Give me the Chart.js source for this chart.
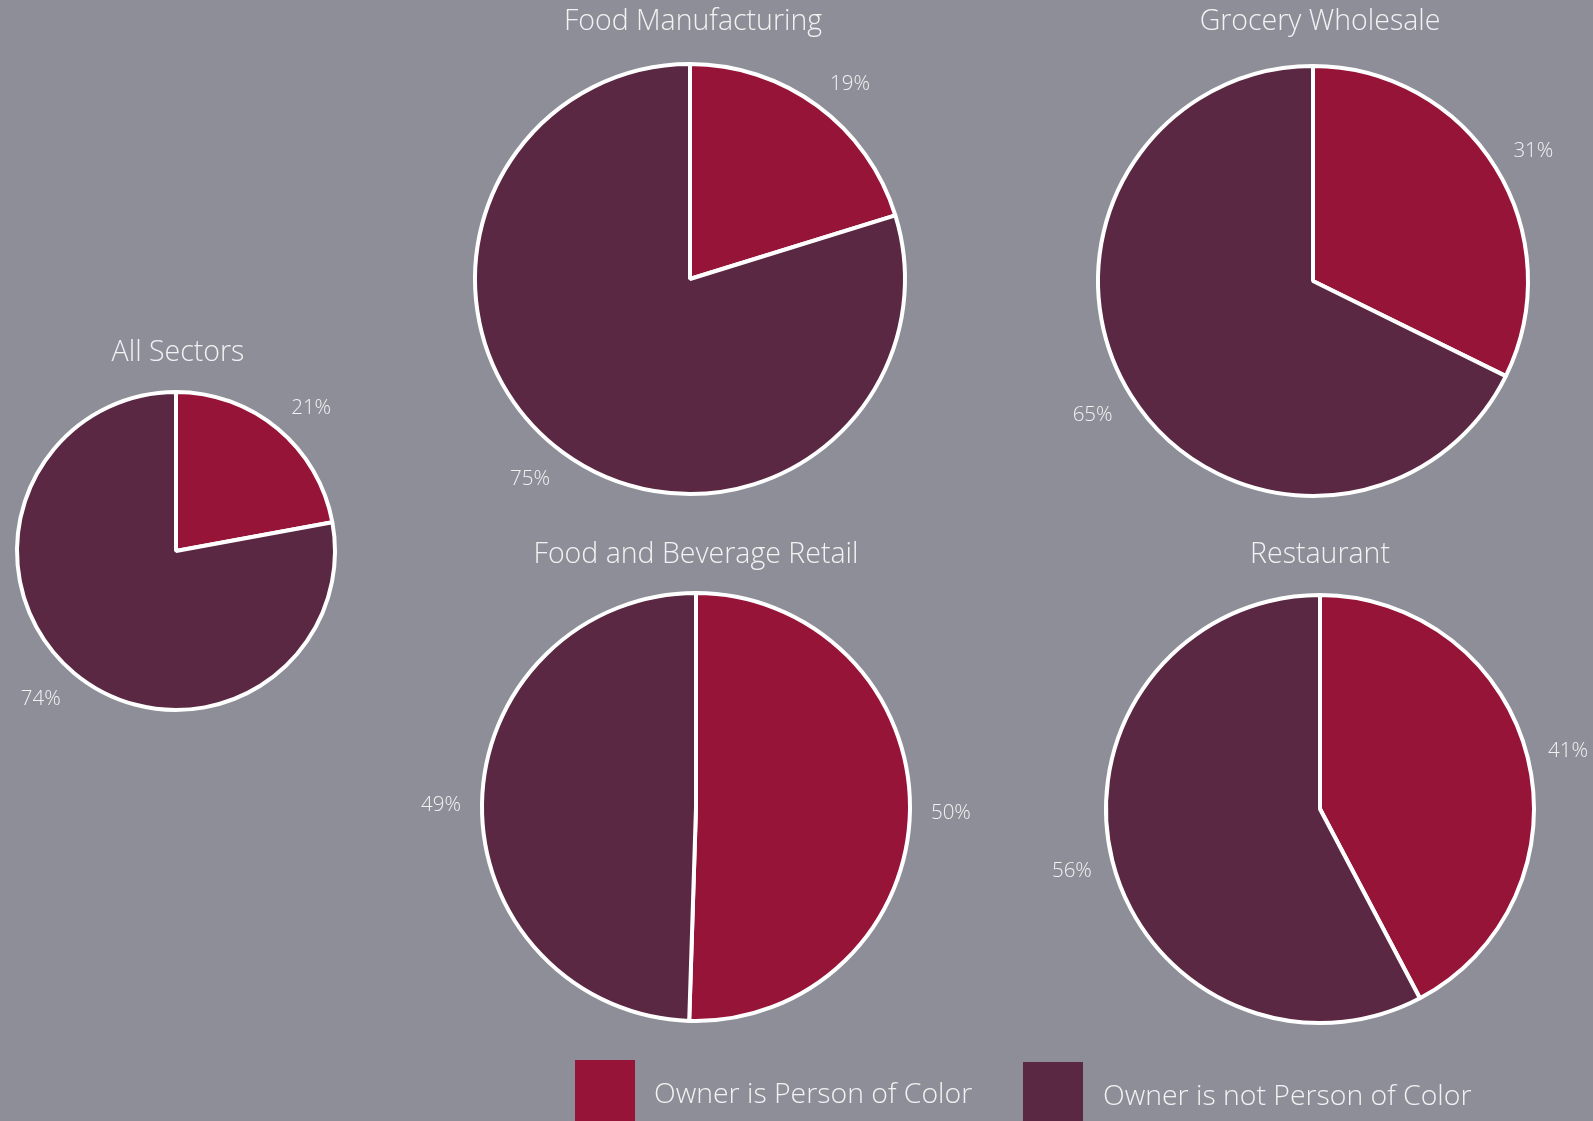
<!DOCTYPE html>
<html>
<head>
<meta charset="utf-8">
<script src="https://cdn.jsdelivr.net/npm/chart.js@4.4.1/dist/chart.umd.min.js"></script>
<style>
  html, body { margin: 0; padding: 0; }
  body { width: 1593px; height: 1121px; background: #8e8e99; position: relative; overflow: hidden;
         font-family: "Open Sans", "Noto Sans", sans-serif; }
  canvas.pie { position: absolute; left: 0; top: 0; }
  .legend-item { position: absolute; color: #f2f2f2; font-size: 28.4px; font-weight: 300; line-height: 1; white-space: nowrap; }
  .legend-box { position: absolute; width: 60px; height: 61px; }
</style>
</head>
<body>
<canvas class="pie" id="pieAll" width="1593" height="1121"></canvas>
<canvas class="pie" id="pieMfg" width="1593" height="1121"></canvas>
<canvas class="pie" id="pieGrocery" width="1593" height="1121"></canvas>
<canvas class="pie" id="pieRetail" width="1593" height="1121"></canvas>
<canvas class="pie" id="pieRestaurant" width="1593" height="1121"></canvas>

<div class="legend-box" id="boxPoc" style="left:575px; top:1060px;"></div>
<div class="legend-item" id="txtPoc" style="left:654px; top:1078px;"></div>
<div class="legend-box" id="boxNotPoc" style="left:1023px; top:1062px;"></div>
<div class="legend-item" id="txtNotPoc" style="left:1103px; top:1080px;"></div>

<script>
  // values per sector, in percent
  const sectors = ['All Sectors', 'Food Manufacturing', 'Grocery Wholesale', 'Food and Beverage Retail', 'Restaurant'];
  const ownerPoc = [21, 19, 31, 50, 41];
  const ownerNotPoc = [74, 75, 65, 49, 56];
  const seriesNames = ['Owner is Person of Color', 'Owner is not Person of Color'];

  const colores = ['#961438', '#5a2842'];
  const W = 1593, H = 1121;
  const bw = 4;

  // where each pie sits on the page: center, radius, title position
  const layout = [
    {id: 'pieAll',        cx: 176,  cy: 551, r: 159, tx: 178,  ty: 361},
    {id: 'pieMfg',        cx: 690,  cy: 279, r: 215, tx: 693,  ty: 30},
    {id: 'pieGrocery',    cx: 1313, cy: 281, r: 215, tx: 1320, ty: 30},
    {id: 'pieRetail',     cx: 696,  cy: 807, r: 214, tx: 696,  ty: 563},
    {id: 'pieRestaurant', cx: 1320, cy: 809, r: 214, tx: 1320, ty: 563}
  ];

  // titles and outside-end percent labels
  const etiquetas = {
    id: 'etiquetas',
    afterDatasetsDraw(chart, args, opts) {
      const ctx = chart.ctx;
      ctx.save();
      ctx.fillStyle = '#f2f2f2';
      ctx.textAlign = 'center';
      ctx.textBaseline = 'alphabetic';
      ctx.font = '300 28.5px "Open Sans"';
      ctx.fillText(opts.titulo, opts.tx, opts.ty);

      ctx.font = '300 20.5px "Open Sans"';
      ctx.textBaseline = 'middle';
      const meta = chart.getDatasetMeta(0);
      const data = chart.data.datasets[0].data;
      const clamp = v => Math.max(-1, Math.min(1, v));
      meta.data.forEach((arc, i) => {
        const p = arc.getProps(['x', 'y', 'startAngle', 'endAngle', 'outerRadius'], true);
        const mid = (p.startAngle + p.endAngle) / 2;
        const ux = Math.cos(mid), uy = Math.sin(mid);
        const txt = data[i] + '%';
        const w = ctx.measureText(txt).width, h = 15;
        // label box sits just off the rim, pushed out by its own half size
        const d = p.outerRadius + 21;
        const x = p.x + d * ux + w / 2 * clamp(ux * 2);
        const y = p.y + d * uy + h / 2 * clamp(uy * 2) + 2.5;
        ctx.fillText(txt, x, y);
      });
      ctx.restore();
    }
  };

  const graficos = [];
  layout.forEach((l, i) => {
    const half = l.r + bw / 2;
    graficos.push(new Chart(document.getElementById(l.id), {
      type: 'pie',
      data: {
        labels: seriesNames,
        datasets: [{
          data: [ownerPoc[i], ownerNotPoc[i]],
          backgroundColor: colores,
          borderColor: '#ffffff',
          borderWidth: bw
        }]
      },
      options: {
        responsive: false,
        animation: false,
        events: [],
        layout: {
          padding: {
            left: l.cx - half,
            right: W - (l.cx + half),
            top: l.cy - half,
            bottom: H - (l.cy + half)
          }
        },
        plugins: {
          legend: {display: false},
          tooltip: {enabled: false},
          etiquetas: {titulo: sectors[i], tx: l.tx, ty: l.ty}
        }
      },
      plugins: [etiquetas]
    }));
  });

  document.getElementById('boxPoc').style.background = colores[0];
  document.getElementById('boxNotPoc').style.background = colores[1];
  document.getElementById('txtPoc').textContent = seriesNames[0];
  document.getElementById('txtNotPoc').textContent = seriesNames[1];
</script>
</body>
</html>
